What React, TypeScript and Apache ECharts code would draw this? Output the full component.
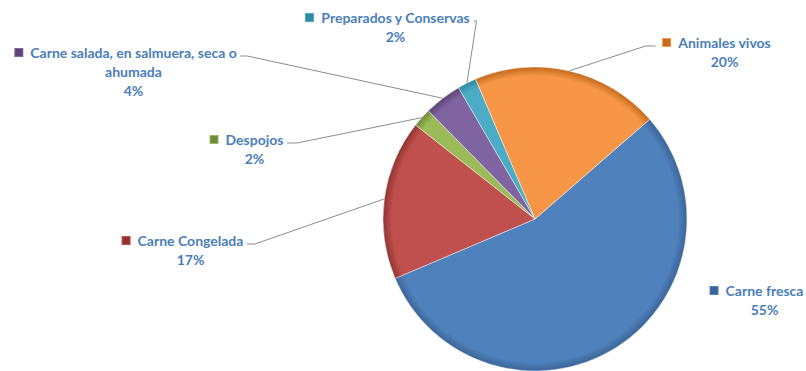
import React, { useEffect, useRef } from 'react';
import * as echarts from 'echarts';

// ---- data ----
const categories = [
  'Carne fresca',
  'Carne Congelada',
  'Despojos',
  'Carne salada, en salmuera, seca o\nahumada',
  'Preparados y Conservas',
  'Animales vivos',
];
const values = [55, 17, 2, 4, 2, 20];

// ---- styles / layout ----
const colors = ['#4f81bd', '#c0504d', '#9bbb59', '#8064a2', '#4bacc6', '#f79646'];
const keyColors = ['#3a6597', '#8f3431', '#6f8a3a', '#5a4478', '#2f8aa3', '#c36a1d'];
// label block: center x, top y, side where the leader line attaches, elbow length
const labelPlace = [
  { x: 757, y: 281, side: 'none', elbow: 0 },
  { x: 183, y: 231, side: 'right', elbow: 8 },
  { x: 247, y: 130, side: 'right', elbow: 10 },
  { x: 126, y: 43, side: 'right', elbow: 7 },
  { x: 388, y: 8, side: 'right', elbow: 3 },
  { x: 717, y: 33, side: 'left', elbow: 10 },
];

const CX = 535;
const CY = 219;
const R = 152;
const FONT = 'Lato';
const TEXT_COLOR = '#4a7ebb';
const KEY_W = 15; // square + gap

export default function App() {
  const ref = useRef<HTMLDivElement>(null);

  useEffect(() => {
    document.body.style.margin = '0';
    const chart = echarts.init(ref.current!, null, { renderer: 'svg' });

    const data = categories.map((name, i) => {
      const grad = new echarts.graphic.RadialGradient(
        CX,
        CY,
        R,
        [
          { offset: 0, color: colors[i] },
          { offset: 0.94, color: colors[i] },
          { offset: 1, color: keyColors[i] },
        ],
        true
      );
      return {
        name,
        value: values[i],
        itemStyle: { color: grad },
        labelLine: { show: labelPlace[i].side !== 'none' },
      };
    });

    const rich: any = {
      name: { fontFamily: FONT, fontWeight: 'bold', fontSize: 14, color: TEXT_COLOR, lineHeight: 19 },
      sub: { fontFamily: FONT, fontWeight: 'bold', fontSize: 14, color: TEXT_COLOR, lineHeight: 19, padding: [0, 0, 0, KEY_W] },
      gap: { width: 8, lineHeight: 19 },
    };
    colors.forEach((c, i) => {
      rich['sq' + i] = { width: 7, height: 7, backgroundColor: keyColors[i], borderColor: colors[i], borderWidth: 1 };
    });

    chart.setOption({
      animation: false,
      backgroundColor: '#ffffff',
      series: [
        {
          type: 'pie',
          center: [CX, CY],
          radius: R,
          startAngle: 41,
          clockwise: true,
          avoidLabelOverlap: false,
          data,
          itemStyle: { borderColor: 'rgba(255,255,255,0.55)', borderWidth: 0.8 },
          label: {
            show: true,
            position: 'outside',
            align: 'center',
            formatter: (p: any) => {
              const lines = String(p.name).split('\n');
              const first = `{sq${p.dataIndex}| }{gap| }{name|${lines[0]}}`;
              const rest = lines.slice(1).map((l) => `{sub|${l}}`);
              const pct = `{sub|${Math.round(p.percent)}%}`;
              return [first, ...rest, pct].join('\n');
            },
            rich,
          },
          labelLine: {
            show: true,
            length: 10,
            length2: 10,
            lineStyle: { color: '#8c8c8c', width: 1 },
          },
          labelLayout: (p: any) => {
            const pl = labelPlace[p.dataIndex];
            const res: any = { x: pl.x, y: pl.y, align: 'center', verticalAlign: 'top' };
            if (pl.side !== 'none' && p.labelLinePoints) {
              const w = p.labelRect.width;
              const ey = pl.y + 13;
              const ex = pl.side === 'right' ? pl.x + w / 2 + 3 : pl.x - w / 2 - 7;
              const bx = pl.side === 'right' ? ex + pl.elbow : ex - pl.elbow;
              res.labelLinePoints = [p.labelLinePoints[0], [bx, ey], [ex, ey]];
            }
            return res;
          },
        },
      ],
    });

    return () => chart.dispose();
  }, []);

  return <div ref={ref} style={{ width: 806, height: 371 }} />;
}
